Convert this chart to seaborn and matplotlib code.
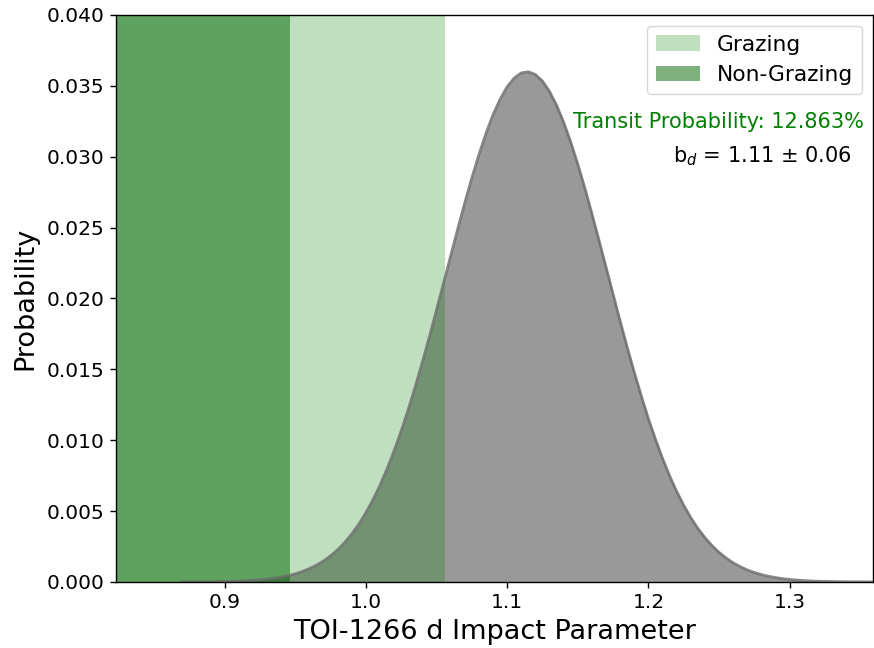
import numpy as np
import pandas as pd
import matplotlib
matplotlib.use("Agg")
import matplotlib.pyplot as plt
import seaborn as sns

# Impact parameter grid and probability values
impact = [0.870, 0.875, 0.880, 0.885, 0.890, 0.895, 0.900, 0.905, 0.910, 0.915,
          0.920, 0.925, 0.930, 0.935, 0.940, 0.945, 0.950, 0.955, 0.960, 0.965,
          0.970, 0.975, 0.980, 0.985, 0.990, 0.995, 1.000, 1.005, 1.010, 1.015,
          1.020, 1.025, 1.030, 1.035, 1.040, 1.045, 1.050, 1.055, 1.060, 1.065,
          1.070, 1.075, 1.080, 1.085, 1.090, 1.095, 1.100, 1.105, 1.110, 1.115,
          1.120, 1.125, 1.130, 1.135, 1.140, 1.145, 1.150, 1.155, 1.160, 1.165,
          1.170, 1.175, 1.180, 1.185, 1.190, 1.195, 1.200, 1.205, 1.210, 1.215,
          1.220, 1.225, 1.230, 1.235, 1.240, 1.245, 1.250, 1.255, 1.260, 1.265,
          1.270, 1.275, 1.280, 1.285, 1.290, 1.295, 1.300, 1.305, 1.310, 1.315,
          1.320, 1.325, 1.330, 1.335, 1.340, 1.345, 1.350, 1.355, 1.360]
probability = [0.000004, 0.0000055, 0.000008, 0.000011, 0.000016, 0.000022, 0.000031, 0.000043, 0.000059, 0.000081,
               0.000110, 0.000148, 0.000197, 0.000260, 0.000341, 0.000444, 0.000574, 0.000735, 0.000936, 0.00118,
               0.00148, 0.00184, 0.00227, 0.00278, 0.00338, 0.00407, 0.00487, 0.00579, 0.00681, 0.00797,
               0.00924, 0.01064, 0.01215, 0.01378, 0.01550, 0.01730, 0.01917, 0.02107, 0.02298, 0.02488,
               0.02673, 0.02849, 0.03013, 0.03163, 0.03295, 0.03405, 0.03493, 0.03555, 0.03591, 0.03599,
               0.03580, 0.03534, 0.03461, 0.03364, 0.03244, 0.03105, 0.02949, 0.02780, 0.02600, 0.02412,
               0.02222, 0.02031, 0.01841, 0.01657, 0.01480, 0.01312, 0.01153, 0.01007, 0.00872, 0.00749,
               0.00639, 0.00541, 0.00454, 0.00378, 0.00313, 0.00257, 0.00209, 0.00169, 0.00135, 0.00108,
               0.00085, 0.00067, 0.00052, 0.00040, 0.00031, 0.00023, 0.00018, 0.00013, 0.00010, 0.00007,
               0.00005, 0.00004, 0.00003, 0.00002, 0.00001, 0.00001, 0.00001, 0.000005, 0.0]

x_limits = [0.823, 1.359]
non_grazing_edge = 0.946
grazing_edge = 1.056
transit_text = "Transit Probability: 12.863%"
b_text = r"b$_d$ = 1.11 ± 0.06"
x_label = "TOI-1266 d Impact Parameter"
y_label = "Probability"

df = pd.DataFrame({"b": impact, "p": probability})

plt.rcParams['font.family'] = ['DejaVu Sans']
fig, ax = plt.subplots(figsize=(8.74, 6.48), dpi=100)
fig.subplots_adjust(left=0.1324, right=0.9989, top=0.9769, bottom=0.1019)

ax.fill_between(df["b"], df["p"], color="gray", alpha=0.8, linewidth=0)
sns.lineplot(data=df, x="b", y="p", ax=ax, color="#6a6a6a", linewidth=2, alpha=0.8)

ax.axvspan(x_limits[0] - 0.1, grazing_edge, color="green", alpha=0.25, linewidth=0, label="Grazing")
ax.axvspan(x_limits[0] - 0.1, non_grazing_edge, color="darkgreen", alpha=0.5, linewidth=0, label="Non-Grazing")

ax.set_xlim(*x_limits)
ax.set_ylim(0, 0.04)
ax.set_xticks([0.9, 1.0, 1.1, 1.2, 1.3])
ax.set_yticks(np.arange(0, 0.0401, 0.005))
ax.tick_params(labelsize=14.5, length=4.5, width=1)
for s in ax.spines.values():
    s.set_linewidth(1)
ax.set_xlabel(x_label, fontsize=19.5, labelpad=5)
ax.set_ylabel(y_label, fontsize=19.5, labelpad=6)

ax.legend(loc="upper right", fontsize=15.7, borderaxespad=0.5)
ax.text(0.988, 0.811, transit_text, transform=ax.transAxes, color="green",
        fontsize=15, ha="right", va="center")
ax.text(0.971, 0.751, b_text, transform=ax.transAxes, color="black",
        fontsize=15, ha="right", va="center")

fig.savefig("out.png", dpi=100)
